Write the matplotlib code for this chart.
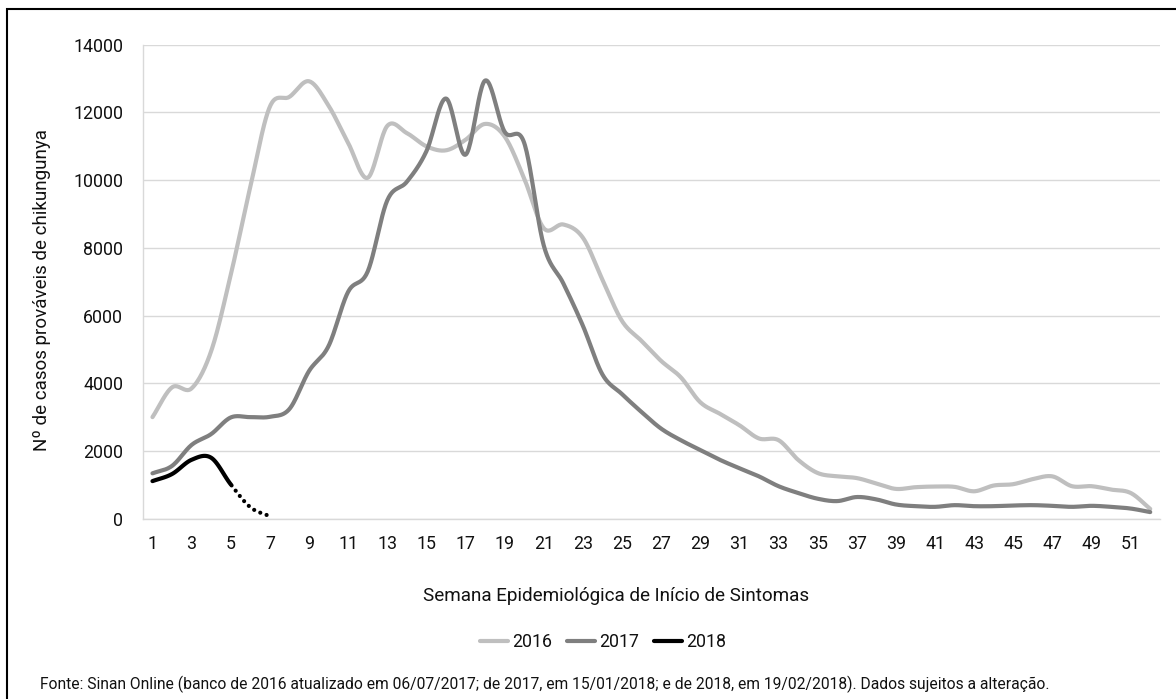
import numpy as np
import matplotlib.pyplot as plt
from matplotlib.patches import Rectangle

plt.rcParams['font.family'] = ['Roboto', 'DejaVu Sans']

weeks = list(range(1, 53))
cases_2016 = [3000, 3880, 3850, 4950, 7200, 9800, 12170, 12460, 12920, 12200,
              11100, 10070, 11600, 11390, 11000, 10880, 11190, 11660, 11290, 10050,
              8580, 8690, 8300, 7060, 5840, 5250, 4660, 4180, 3440, 3100,
              2760, 2370, 2320, 1740, 1350, 1250, 1200, 1040, 880, 930,
              950, 940, 810, 980, 1020, 1170, 1250, 960, 960, 860,
              760, 290]
cases_2017 = [1340, 1560, 2180, 2500, 2990, 3000, 3010, 3240, 4360, 5100,
              6700, 7300, 9400, 9950, 10850, 12410, 10750, 12940, 11430, 11100,
              8070, 6950, 5700, 4260, 3680, 3150, 2660, 2320, 2030, 1740,
              1490, 1250, 960, 760, 590, 520, 640, 570, 420, 370,
              350, 400, 370, 370, 390, 400, 380, 350, 380, 350,
              300, 195]
weeks_2018 = [1, 2, 3, 4, 5, 6, 7]
cases_2018 = [1110, 1320, 1740, 1800, 1015, 340, 70]
last_complete_2018 = 5

x_tick_weeks = list(range(1, 53, 2))
y_ticks = list(range(0, 14001, 2000))

labels = ['2016', '2017', '2018']
colors = ['#bfbfbf', '#7f7f7f', '#000000']


def smooth(x, y, n=24):
    # smoothed line like the spreadsheet one (Catmull-Rom as Bezier)
    p = np.column_stack([x, y]).astype(float)
    p = np.vstack([2 * p[0] - p[1], p, 2 * p[-1] - p[-2]])
    t = np.linspace(0, 1, n, endpoint=False)[:, None]
    out = []
    for i in range(1, len(p) - 2):
        b0 = p[i]
        b1 = p[i] + (p[i + 1] - p[i - 1]) / 6
        b2 = p[i + 1] - (p[i + 2] - p[i]) / 6
        b3 = p[i + 1]
        out.append((1 - t) ** 3 * b0 + 3 * (1 - t) ** 2 * t * b1
                   + 3 * (1 - t) * t ** 2 * b2 + t ** 3 * b3)
    out.append(p[-2][None, :])
    out = np.vstack(out)
    return out[:, 0], out[:, 1]


W, H = 1176, 699
fig = plt.figure(figsize=(W / 100, H / 100), dpi=100)
ax = fig.add_axes([142.7 / W, 1 - 518.7 / H, (1160 - 142.7) / W, (518.7 - 44.7) / H])

lw = 3.0
sx, sy = smooth(weeks, cases_2016)
ax.plot(sx, sy, color=colors[0], lw=lw, solid_capstyle='round', label=labels[0])
sx, sy = smooth(weeks, cases_2017)
ax.plot(sx, sy, color=colors[1], lw=lw, solid_capstyle='round', label=labels[1])
sx, sy = smooth(weeks_2018, cases_2018)
solid = sx <= last_complete_2018
ax.plot(sx[solid], sy[solid], color=colors[2], lw=lw, solid_capstyle='round', label=labels[2])
ax.plot(sx[~solid], sy[~solid], color=colors[2], lw=lw, linestyle=(0, (0.01, 1.6)),
        dash_capstyle='round')

ax.set_xlim(0.5, 52.5)
ax.set_ylim(0, 14000)
ax.set_xticks(x_tick_weeks)
ax.set_yticks(y_ticks)
ax.grid(axis='y', color='#d9d9d9', lw=1.0)
ax.set_axisbelow(True)
for s in ['top', 'right']:
    ax.spines[s].set_visible(False)
for s in ['left', 'bottom']:
    ax.spines[s].set_color('#d9d9d9')
    ax.spines[s].set_linewidth(1.0)
ax.tick_params(length=0, colors='#111111')
ax.tick_params(axis='y', pad=14)
ax.tick_params(axis='x', pad=12)

fig.canvas.draw()
r = fig.canvas.get_renderer()

# the original font is condensed, so go a bit above the width match
grow = 1.06

# tick size from the width of "14000" (about 47 px)
probe = fig.text(0, 0, '14000', fontsize=12)
tick_fs = 12 * 47 / probe.get_window_extent(r).width * grow
probe.remove()
ax.tick_params(labelsize=tick_fs)

xl = fig.text(616 / W, 1 - 596 / H, 'Semana Epidemiológica de Início de Sintomas',
              ha='center', va='center', fontsize=14, color='#111111')
yl = fig.text(42 / W, 1 - 290 / H, 'Nº de casos prováveis de chikungunya',
              ha='center', va='center', rotation=90, fontsize=14, color='#111111')
src = fig.text(40 / W, 1 - 684 / H,
               'Fonte: Sinan Online (banco de 2016 atualizado em 06/07/2017; de 2017, em 15/01/2018; '
               'e de 2018, em 19/02/2018). Dados sujeitos a alteração.',
               ha='left', va='center', fontsize=12, color='#111111')

xl.set_fontsize(14 * 368 / xl.get_window_extent(r).width * grow)
yl.set_fontsize(14 * 306 / yl.get_window_extent(r).height * grow)
src.set_fontsize(12 * 1007 / src.get_window_extent(r).width)

fs_px = tick_fs * 100 / 72
ax.legend(loc='center', bbox_to_anchor=(603 / W, 1 - 642 / H), bbox_transform=fig.transFigure,
          ncol=3, frameon=False, fontsize=tick_fs, handlelength=28 / fs_px,
          handletextpad=4 / fs_px, columnspacing=15 / fs_px, labelcolor='#111111')

fig.add_artist(Rectangle((7 / W, -0.05), 1.2, 1 - 9 / H + 0.05, transform=fig.transFigure,
                         fill=False, ec='#000000', lw=1.5))

fig.savefig('out.png', dpi=100)
